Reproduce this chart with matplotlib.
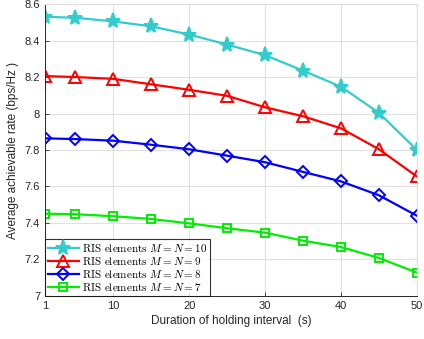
import matplotlib
matplotlib.use("Agg")
import matplotlib.pyplot as plt

# Holding interval (s)
x = [1, 5, 10, 15, 20, 25, 30, 35, 40, 45, 50]

rate_m10 = [8.53, 8.525, 8.505, 8.478, 8.433, 8.378, 8.32, 8.235, 8.147, 8.004, 7.80]
rate_m9 = [8.205, 8.20, 8.19, 8.16, 8.13, 8.097, 8.034, 7.985, 7.919, 7.804, 7.655]
rate_m8 = [7.864, 7.86, 7.851, 7.829, 7.804, 7.769, 7.733, 7.68, 7.628, 7.552, 7.44]
rate_m7 = [7.451, 7.448, 7.437, 7.422, 7.398, 7.371, 7.347, 7.303, 7.268, 7.208, 7.128]

labels = [r"RIS elements $M=N=10$", r"RIS elements $M=N=9$",
          r"RIS elements $M=N=8$", r"RIS elements $M=N=7$"]
colors = ["#33cccc", "#ff0000", "#0000ff", "#00ee00"]
markers = ["*", "^", "D", "s"]
sizes = [11, 8, 6, 6]
fills = ["#33cccc", "none", "none", "none"]

plt.rcParams["font.family"] = "Liberation Sans"
plt.rcParams["mathtext.fontset"] = "cm"
plt.rcParams["axes.formatter.use_mathtext"] = False

fig = plt.figure(figsize=(4.24, 3.39), dpi=100)
ax = fig.add_axes([0.106, 0.127, 0.877, 0.861])

series = [rate_m10, rate_m9, rate_m8, rate_m7]
for y, lab, c, m, s, f in zip(series, labels, colors, markers, sizes, fills):
    ax.plot(x, y, color=c, marker=m, markersize=s, markerfacecolor=f,
            markeredgewidth=1.4, linewidth=1.6, label=lab)

ax.set_xlim(1, 50)
ax.set_ylim(7, 8.6)
ax.set_xticks([1, 10, 20, 30, 40, 50])
ax.set_yticks([7, 7.2, 7.4, 7.6, 7.8, 8, 8.2, 8.4, 8.6])
ax.set_yticklabels(["7", "7.2", "7.4", "7.6", "7.8", "8", "8.2", "8.4", "8.6"])
ax.tick_params(direction="in", labelsize=8, colors="#262626", length=3, width=0.6)
ax.grid(True, color="#e0e0e0", linewidth=0.8)
ax.set_axisbelow(True)
for side in ["top", "right"]:
    ax.spines[side].set_color("#e0e0e0")
for side in ["left", "bottom"]:
    ax.spines[side].set_color("#262626")
    ax.spines[side].set_linewidth(0.7)

ax.set_xlabel("Duration of holding interval  (s)", fontsize=8.5, color="#262626", labelpad=3)
ax.set_ylabel("Average achievable rate (bps/Hz )", fontsize=8.5, color="#262626", labelpad=4)

leg = ax.legend(loc="lower left", prop={"family": "cmr10", "size": 8.0},
                frameon=True, fancybox=False, borderaxespad=0, handlelength=2.8,
                borderpad=0.25, labelspacing=0.1, handletextpad=0.3)
leg.get_frame().set_edgecolor("black")
leg.get_frame().set_linewidth(0.8)

fig.savefig("out.png", dpi=100)
